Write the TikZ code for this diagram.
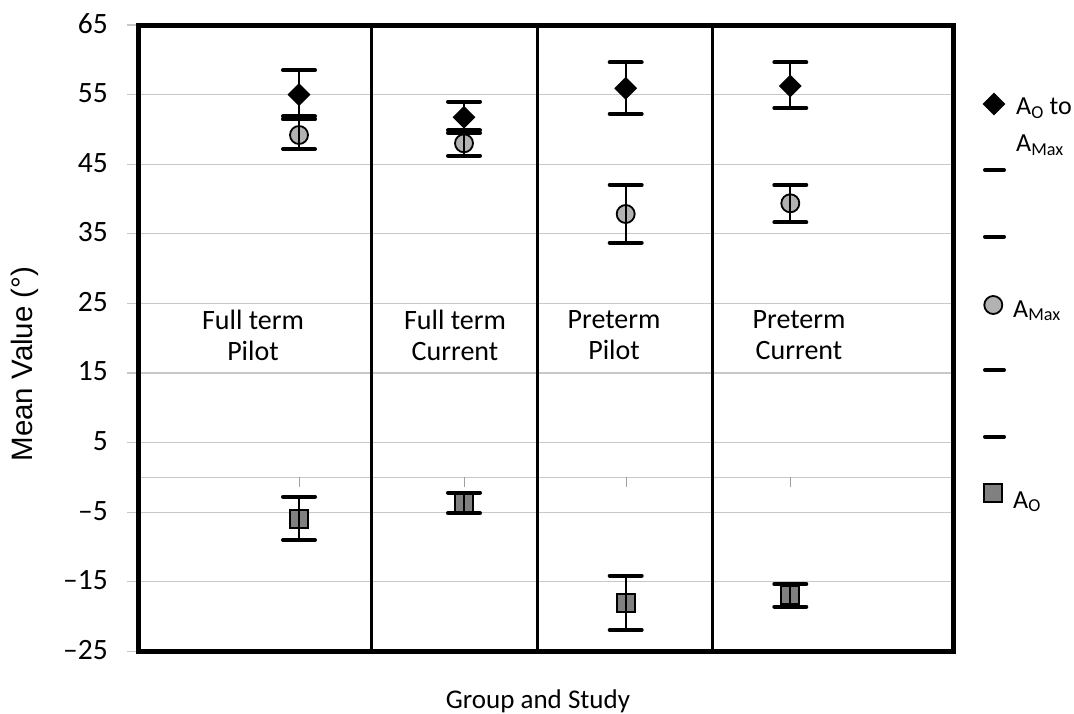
\documentclass[tikz,border=0pt]{standalone}
\usepackage{fontspec}
\setmainfont{Carlito}
\newfontfamily\arialfont{Liberation Sans}
\usetikzlibrary{shapes.geometric}
\definecolor{gridgray}{RGB}{200,200,200}
\definecolor{tickgray}{RGB}{160,160,160}
\definecolor{circfill}{RGB}{178,178,178}
\definecolor{sqfill}{RGB}{128,128,128}
\newcommand\errbar[4]{%
  \coordinate (#1t) at (#2,#3);
  \coordinate (#1b) at (#2,#4);
  \draw[ebar] (#1t) -- (#1b);
  \draw[ecap] ([xshift=-16pt]#1t) -- ([xshift=16pt]#1t);
  \draw[ecap] ([xshift=-16pt]#1b) -- ([xshift=16pt]#1b);}
\begin{document}
\begin{tikzpicture}[x=1pt,y=-1pt,
  grid/.style={gridgray, line width=1.3pt},
  frame/.style={line width=5pt},
  divider/.style={line width=3pt},
  dmark/.style={diamond, fill=black, minimum width=23pt, minimum height=23pt, inner sep=0pt},
  cmark/.style={circle, draw=black, line width=1.8pt, fill=circfill, minimum size=18pt, inner sep=0pt},
  smark/.style={rectangle, draw=black, line width=1.8pt, fill=sqfill, minimum size=18pt, inner sep=0pt},
  ebar/.style={line width=1.8pt},
  ecap/.style={line width=4pt, line cap=round},
  ticklab/.style={anchor=east, font=\fontsize{29.5}{33}\selectfont, inner sep=0pt},
  grplab/.style={align=center, font=\fontsize{28}{31}\selectfont, inner sep=0pt},
  leglab/.style={anchor=base west, font=\fontsize{26}{30}\selectfont, inner sep=0pt},
  zerotick/.style={tickgray, line width=1pt}
]
\useasboundingbox (0,0) rectangle (1074,714);

% gridlines and tick labels
\foreach \v/\y/\lab in {65/25/65, 55/94.6/55, 45/164.2/45, 35/233.8/35, 25/303.4/25,
    15/373/15, 5/442.6/5, m5/512.2/–5, m15/581.8/–15, m25/651.4/–25}{
  \draw[grid] (127,\y) -- (953,\y);
  \node[ticklab] (t\v) at (108,\y-1.5) {\lab};
}
\draw[grid] (140,477.4) -- (953,477.4);
\foreach \x in {299,464,626,790}{
  \draw[zerotick] (\x,477.4) -- (\x,487);
}

% frame and dividers
\draw[frame] (138,25.8) rectangle (953,651);
\draw[divider] (371.7,25.8) -- (371.7,651);
\draw[divider] (537.7,25.8) -- (537.7,651);
\draw[divider] (712.3,25.8) -- (712.3,651);

% group labels
\node[grplab] (g1) at (253,335) {Full term\\Pilot};
\node[grplab] (g2) at (455,335) {Full term\\Current};
\node[grplab] (g3) at (614,335.5) {Preterm\\Pilot};
\node[grplab] (g4) at (799,335.5) {Preterm\\Current};

% markers
\node[dmark] (d1) at (299,94.6) {};
\node[cmark] (c1) at (299,135) {};
\node[smark] (s1) at (299,519.3) {};
\node[dmark] (d2) at (464,117.3) {};
\node[cmark] (c2) at (464,143.3) {};
\node[smark] (s2) at (464,503) {};
\node[dmark] (d3) at (625.7,88.3) {};
\node[cmark] (c3) at (625.7,214) {};
\node[smark] (s3) at (625.7,603.3) {};
\node[dmark] (d4) at (790.3,86) {};
\node[cmark] (c4) at (790.3,203.3) {};
\node[smark] (s4) at (790.3,595) {};

% error bars
\errbar{ed1}{299}{70.3}{119.5}
\errbar{ec1}{299}{116.5}{149}
\errbar{es1}{299}{496.7}{540}
\errbar{ed2}{464}{101.7}{133}
\errbar{ec2}{464}{130.5}{155.7}
\errbar{es2}{464}{492.7}{513.3}
\errbar{ed3}{625.7}{62.3}{114}
\errbar{ec3}{625.7}{185}{242.7}
\errbar{es3}{625.7}{575.7}{630}
\errbar{ed4}{790.3}{62.3}{108}
\errbar{ec4}{790.3}{185}{222.3}
\errbar{es4}{790.3}{584}{606.7}

% axis titles
\node[rotate=90, font=\arialfont\fontsize{29.5}{32}\selectfont, inner sep=0pt] (ytitle) at (25,364) {Mean Value (°)};
\node[anchor=base, font=\fontsize{27}{30}\selectfont, inner sep=0pt] (xtitle) at (538,708) {Group and Study};

% legend
\node[dmark] (ld) at (994,104) {};
\node[leglab] (ldt) at (1016,115) {A\textsubscript{O} to};
\node[leglab] (ldt2) at (1016,151.7) {A\textsubscript{Max}};
\foreach \y [count=\i] in {170,236.7,370,436.7}{
  \coordinate (lL\i) at (985,\y);
  \coordinate (lR\i) at (1004,\y);
  \draw[ecap] (lL\i) -- (lR\i);
}
\node[cmark] (lc) at (993.3,305) {};
\node[leglab] (lct) at (1013,317) {A\textsubscript{Max}};
\node[smark] (ls) at (993,493.3) {};
\node[leglab] (lst) at (1013,508) {A\textsubscript{O}};
\end{tikzpicture}
\end{document}
